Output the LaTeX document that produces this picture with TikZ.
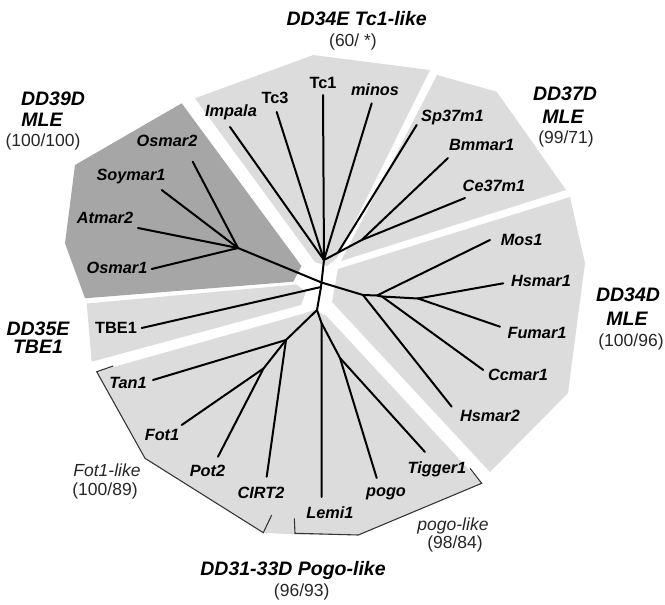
\documentclass[tikz,border=0pt]{standalone}
\usepackage{fontspec}
\setmainfont{Liberation Sans}
\definecolor{lgray}{RGB}{220,220,220}
\definecolor{dgray}{RGB}{166,166,166}
\definecolor{bgray}{RGB}{55,55,55}
\begin{document}
\begin{tikzpicture}[x=1pt,y=-1pt,
  region/.style={fill=lgray,draw=none},
  darkregion/.style={fill=dgray,draw=none},
  branch/.style={line width=2pt,line cap=round,line join=round},
  bracket/.style={line width=1.1pt,draw=bgray,line join=miter},
  leaf/.style={inner sep=0pt,text height=0.72em,text depth=0pt,font=\fontsize{16.3}{18}\selectfont\bfseries\itshape},
  leafup/.style={leaf,font=\fontsize{16.3}{18}\selectfont\bfseries},
  clade/.style={inner sep=0pt,text height=0.72em,text depth=0pt,font=\fontsize{19.5}{21}\selectfont\bfseries\itshape},
  num/.style={inner sep=0pt,text height=0.72em,text depth=0pt,font=\fontsize{17.5}{19}\selectfont,text=black!85},
  subclade/.style={num,font=\fontsize{17.5}{19}\selectfont\itshape}
]
\useasboundingbox (0,0) rectangle (665,605);

% ---- shaded regions ----
\fill[darkregion] (181.7,103.3) -- (75,165) -- (65,243.3) -- (85,298.3) -- (293.3,281.7) -- (301.5,266) -- cycle;
\fill[region] (195,98.3) -- (313.3,55) -- (430,70) -- (337,258) -- (327,266) -- (315,262) -- cycle;
\fill[region] (437,75) -- (496.7,91.7) -- (566,190) -- (341,261) -- cycle;
\fill[region] (570,197) -- (585,263) -- (568,393) -- (490,472) -- (332,302) -- (338,269) -- cycle;
\fill[region] (86.7,303.5) -- (296.7,284.5) -- (306,292) -- (301,305) -- (91.7,361.7) -- cycle;
\fill[region] (96.7,371.7) -- (145,458.3) -- (263.3,532.7) -- (295,534.5) -- (358.3,535) -- (481.7,483.3) -- (326.5,316) -- (314,310) -- (304,313.5) -- cycle;

% ---- brackets ----
\coordinate (fa) at (113.3,366);
\coordinate (fb) at (96.7,371.7);
\coordinate (fc) at (145,458.3);
\coordinate (fd) at (263.3,532.7);
\coordinate (fe) at (271.7,515);
\draw[bracket] (fa) -- (fb) -- (fc) -- (fd) -- (fe);
\coordinate (pa) at (470,468.3);
\coordinate (pb) at (481.7,483.3);
\coordinate (pc) at (358.3,535);
\coordinate (pd) at (295,533.3);
\coordinate (pe) at (294.3,518.3);
\draw[bracket] (pa) -- (pb) -- (pc) -- (pd) -- (pe);

% ---- internal nodes ----
\coordinate (C) at (321.5,282.5);
\coordinate (C2) at (321,287);
\coordinate (P) at (317,310);
\coordinate (F) at (286,340);
\coordinate (F2) at (263.5,368.5);
\coordinate (Lj) at (321.5,323);
\coordinate (G) at (340,358);
\coordinate (T) at (324,260);
\coordinate (S) at (338,252.6);
\coordinate (D) at (361.7,240);
\coordinate (M) at (238,248);
\coordinate (H1) at (363,295);
\coordinate (H2) at (377,295.5);
\coordinate (H3) at (382,296.5);
\coordinate (H4) at (418,298.5);

% ---- leaf line ends ----
\coordinate (eosmar2) at (192.7,161.7);
\coordinate (esoymar1) at (161.7,190);
\coordinate (eatmar2) at (138,228);
\coordinate (eosmar1) at (151.7,269);
\coordinate (eimpala) at (230,127);
\coordinate (etc3) at (276.7,112);
\coordinate (etc1) at (323,95);
\coordinate (eminos) at (371.7,103.3);
\coordinate (esp) at (416.7,125);
\coordinate (ebm) at (448,158);
\coordinate (ece) at (465,198);
\coordinate (emos) at (490,240);
\coordinate (ehs1) at (503.3,283.3);
\coordinate (efu) at (500,326.7);
\coordinate (ecc) at (483.3,370);
\coordinate (ehs2) at (451.7,406.7);
\coordinate (etig) at (425,452);
\coordinate (epogo) at (376.7,478);
\coordinate (elemi) at (321.7,497);
\coordinate (ecirt) at (266.7,476.7);
\coordinate (epot) at (218,456.7);
\coordinate (efot) at (181.7,425);
\coordinate (etan) at (153,380);
\coordinate (etbe) at (141.7,328);

% ---- tree ----
\draw[branch] (C) -- (M);
\draw[branch] (M) -- (eosmar2);
\draw[branch] (M) -- (esoymar1);
\draw[branch] (M) -- (eatmar2);
\draw[branch] (M) -- (eosmar1);
\draw[branch] (C) -- (T);
\draw[branch] (T) -- (eimpala);
\draw[branch] (T) -- (etc3);
\draw[branch] (T) -- (etc1);
\draw[branch] (T) -- (eminos);
\draw[branch] (T) -- (S) -- (D);
\draw[branch] (S) -- (esp);
\draw[branch] (D) -- (ebm);
\draw[branch] (D) -- (ece);
\draw[branch] (C) -- (H1) -- (H2) -- (H3) -- (H4);
\draw[branch] (H1) -- (ehs2);
\draw[branch] (H2) -- (emos);
\draw[branch] (H3) -- (ecc);
\draw[branch] (H4) -- (ehs1);
\draw[branch] (H4) -- (efu);
\draw[branch] (C) -- (C2) -- (P);
\draw[branch] (C2) -- (etbe);
\draw[branch] (P) -- (F);
\draw[branch] (F) -- (etan);
\draw[branch] (F) -- (ecirt);
\draw[branch] (F) -- (F2);
\draw[branch] (F2) -- (efot);
\draw[branch] (F2) -- (epot);
\draw[branch] (P) -- (Lj) -- (G);
\draw[branch] (Lj) -- (elemi);
\draw[branch] (G) -- (epogo);
\draw[branch] (G) -- (etig);

% ---- leaf labels ----
\node[leaf] (losmar2) at (167,143.3) {Osmar2};
\node[leaf] (lsoymar1) at (131,176.7) {Soymar1};
\node[leaf] (latmar2) at (105,220) {Atmar2};
\node[leaf] (losmar1) at (117,270) {Osmar1};
\node[leaf] (limpala) at (231,113.3) {Impala};
\node[leafup] (ltc3) at (275,100) {Tc3};
\node[leafup] (ltc1) at (323,85) {Tc1};
\node[leaf] (lminos) at (375,91.7) {minos};
\node[leaf] (lsp) at (452.5,118.3) {Sp37m1};
\node[leaf] (lbm) at (481.7,146.7) {Bmmar1};
\node[leaf] (lce) at (494,188.3) {Ce37m1};
\node[leaf] (lmos) at (521.7,241.7) {Mos1};
\node[leaf] (lhs1) at (541,283.3) {Hsmar1};
\node[leaf] (lfu) at (537,335) {Fumar1};
\node[leaf] (lcc) at (518,376.7) {Ccmar1};
\node[leaf] (lhs2) at (490,418.3) {Hsmar2};
\node[leaf] (ltig) at (437,470) {Tigger1};
\node[leaf] (lpogo) at (386,493) {pogo};
\node[leaf] (llemi) at (330,515) {Lemi1};
\node[leaf] (lcirt) at (261,495) {CIRT2};
\node[leaf] (lpot) at (207.5,473.3) {Pot2};
\node[leaf] (lfot) at (162,436.7) {Fot1};
\node[leaf] (ltan) at (128,385) {Tan1};
\node[leafup] (ltbe) at (116,330) {TBE1};

% ---- clade labels ----
\node[clade] (c39a) at (53,101.7) {DD39D};
\node[clade] (c39b) at (42,123.3) {MLE};
\node[num] (c39c) at (43,142.7) {(100/100)};
\node[clade] (c34ea) at (356.7,21.7) {DD34E Tc1-like};
\node[num] (c34eb) at (353,43.3) {(60/ *)};
\node[clade] (c37a) at (565,96.7) {DD37D};
\node[clade] (c37b) at (563,120) {MLE};
\node[num] (c37c) at (566,140) {(99/71)};
\node[clade] (c34da) at (628,298) {DD34D};
\node[clade] (c34db) at (627,321.7) {MLE};
\node[num] (c34dc) at (631,343) {(100/96)};
\node[clade] (c35a) at (38,331.7) {DD35E};
\node[clade] (c35b) at (38,350) {TBE1};
\node[clade] (cpa) at (293,571.7) {DD31-33D Pogo-like};
\node[num] (cpb) at (301.7,593) {(96/93)};
\node[subclade] (spa) at (453,526.7) {pogo-like};
\node[num] (spb) at (455,545) {(98/84)};
\node[subclade] (sfa) at (107,473) {Fot1-like};
\node[num] (sfb) at (105,491.7) {(100/89)};
\end{tikzpicture}
\end{document}
